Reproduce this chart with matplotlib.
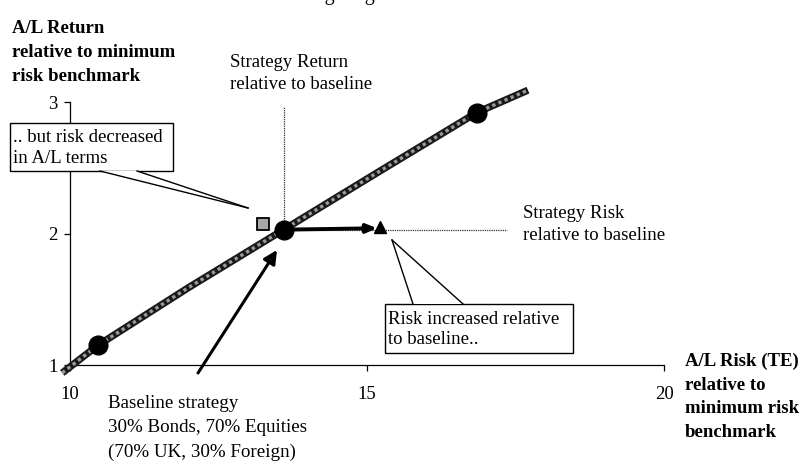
import matplotlib
matplotlib.use("Agg")
import matplotlib.pyplot as plt
from matplotlib.patches import Rectangle, Polygon, FancyArrowPatch
from matplotlib.lines import Line2D

# ---- data ----
frontier_x = [9.87, 10.47, 12.0, 13.6, 15.2, 16.85, 17.71]
frontier_y = [0.94, 1.15, 1.59, 2.03, 2.47, 2.92, 3.09]
portfolio_x = [10.47, 13.6, 16.85]
portfolio_y = [1.15, 2.03, 2.92]
strategy_square = (13.25, 2.07)
strategy_triangle = (15.22, 2.05)
baseline_point = (13.6, 2.03)
return_line_top = 2.96
risk_line_end = 17.36
x_ticks = [10, 15, 20]
y_ticks = [1, 2, 3]

W, H = 802, 461
FONT = "Liberation Serif"
plt.rcParams["font.family"] = [FONT, "DejaVu Serif"]

fig = plt.figure(figsize=(W / 100, H / 100), dpi=100)


def P(x, y):
    return (x / W, 1 - y / H)


ax = fig.add_axes([70 / W, 1 - 365 / H, (664 - 70) / W, (365 - 102) / H])
ax.set_xlim(10, 20)
ax.set_ylim(1, 3)
for s in ["top", "right"]:
    ax.spines[s].set_visible(False)
for s in ["left", "bottom"]:
    ax.spines[s].set_linewidth(0.9)
ax.set_xticks(x_ticks)
ax.set_yticks(y_ticks)
ax.set_xticklabels([str(v) for v in x_ticks])
ax.set_yticklabels([str(v) for v in y_ticks])
ax.tick_params(axis="x", direction="out", length=4, width=0.9, pad=11, labelsize=13.5)
ax.tick_params(axis="y", direction="out", length=4, width=0.9, pad=5, labelsize=13.5)
ax.patch.set_alpha(0)

# frontier (textured thick line)
ax.plot(frontier_x, frontier_y, color="#1a1a1a", lw=5.2, solid_capstyle="butt",
        clip_on=False, zorder=3)
ax.plot(frontier_x, frontier_y, color="#9a9a9a", lw=2.4, ls=(0, (1, 1)),
        clip_on=False, zorder=3.1)

# dotted reference lines
ax.plot([baseline_point[0], baseline_point[0]], [baseline_point[1], return_line_top],
        color="#333333", lw=0.9, ls=(0, (1, 0.8)), clip_on=False, zorder=2)
ax.plot([baseline_point[0], risk_line_end], [baseline_point[1], baseline_point[1]],
        color="#333333", lw=0.9, ls=(0, (1, 0.8)), clip_on=False, zorder=2)

# portfolios
ax.plot(portfolio_x, portfolio_y, ls="none", marker="o", ms=13.5, color="black",
        clip_on=False, zorder=5)

# arrow baseline -> risk triangle
ax.annotate("", xy=(strategy_triangle[0] - 0.05, strategy_triangle[1] - 0.01),
            xytext=(baseline_point[0] + 0.1, baseline_point[1]),
            arrowprops=dict(arrowstyle="-|>,head_length=0.6,head_width=0.25",
                            color="black", lw=2.8, shrinkA=0, shrinkB=0), zorder=4)
ax.plot([strategy_triangle[0]], [strategy_triangle[1]], ls="none", marker="^", ms=9,
        color="black", zorder=5)
# strategy return (square)
ax.plot([strategy_square[0]], [strategy_square[1]], ls="none", marker="s", ms=8,
        markerfacecolor="#a8a8a8", markeredgecolor="black", markeredgewidth=1.3, zorder=5)

# ---- texts ----
fig.text(*P(428, 0), "Risk Budgeting and the Investor Benchmark", ha="center",
         va="baseline", fontsize=14.5)

fig.text(*P(12, 20), "A/L Return\nrelative to minimum\nrisk benchmark", ha="left",
         va="top", fontsize=13.5, fontweight="bold", linespacing=1.55)
fig.text(*P(230, 54), "Strategy Return\nrelative to baseline", ha="left", va="top",
         fontsize=13.5, linespacing=1.42)
fig.text(*P(523, 205), "Strategy Risk\nrelative to baseline", ha="left", va="top",
         fontsize=13.5, linespacing=1.42)
fig.text(*P(108, 395), "Baseline strategy\n30% Bonds, 70% Equities\n(70% UK, 30% Foreign)",
         ha="left", va="top", fontsize=13.7, linespacing=1.55)
fig.text(*P(685, 353), "A/L Risk (TE)\nrelative to\nminimum risk\nbenchmark", ha="left",
         va="top", fontsize=13.5, fontweight="bold", linespacing=1.5)


def callout_box(x0, y0, x1, y1, text, leg1, leg2, tip):
    r = Rectangle(P(x0, y1), (x1 - x0) / W, (y1 - y0) / H, transform=fig.transFigure,
                  facecolor="white", edgecolor="black", lw=1.0, zorder=10)
    fig.add_artist(r)
    poly = Polygon([P(*leg1), P(*tip), P(*leg2)], closed=True, transform=fig.transFigure,
                   facecolor="white", edgecolor="none", zorder=11)
    fig.add_artist(poly)
    for leg in (leg1, leg2):
        fig.add_artist(Line2D([P(*leg)[0], P(*tip)[0]], [P(*leg)[1], P(*tip)[1]],
                              transform=fig.transFigure, color="black", lw=1.0, zorder=12))
    fig.text(*P(x0 + 3, (y0 + y1) / 2 + 1), text, ha="left", va="center", fontsize=13.5,
             linespacing=1.25, zorder=13)


callout_box(10, 123, 173, 171, ".. but risk decreased\nin A/L terms",
            (100, 171), (137, 171), (248, 208))
callout_box(385, 304, 573, 353, "Risk increased relative\nto baseline..",
            (413, 304), (463, 304), (392, 240))

# arrow to baseline strategy
fig.add_artist(FancyArrowPatch(
    P(198, 373), P(277, 250), transform=fig.transFigure,
    arrowstyle="-|>,head_length=8,head_width=4", color="black", lw=2.2,
    shrinkA=0, shrinkB=0, zorder=6))

fig.savefig("out.png", dpi=100)
